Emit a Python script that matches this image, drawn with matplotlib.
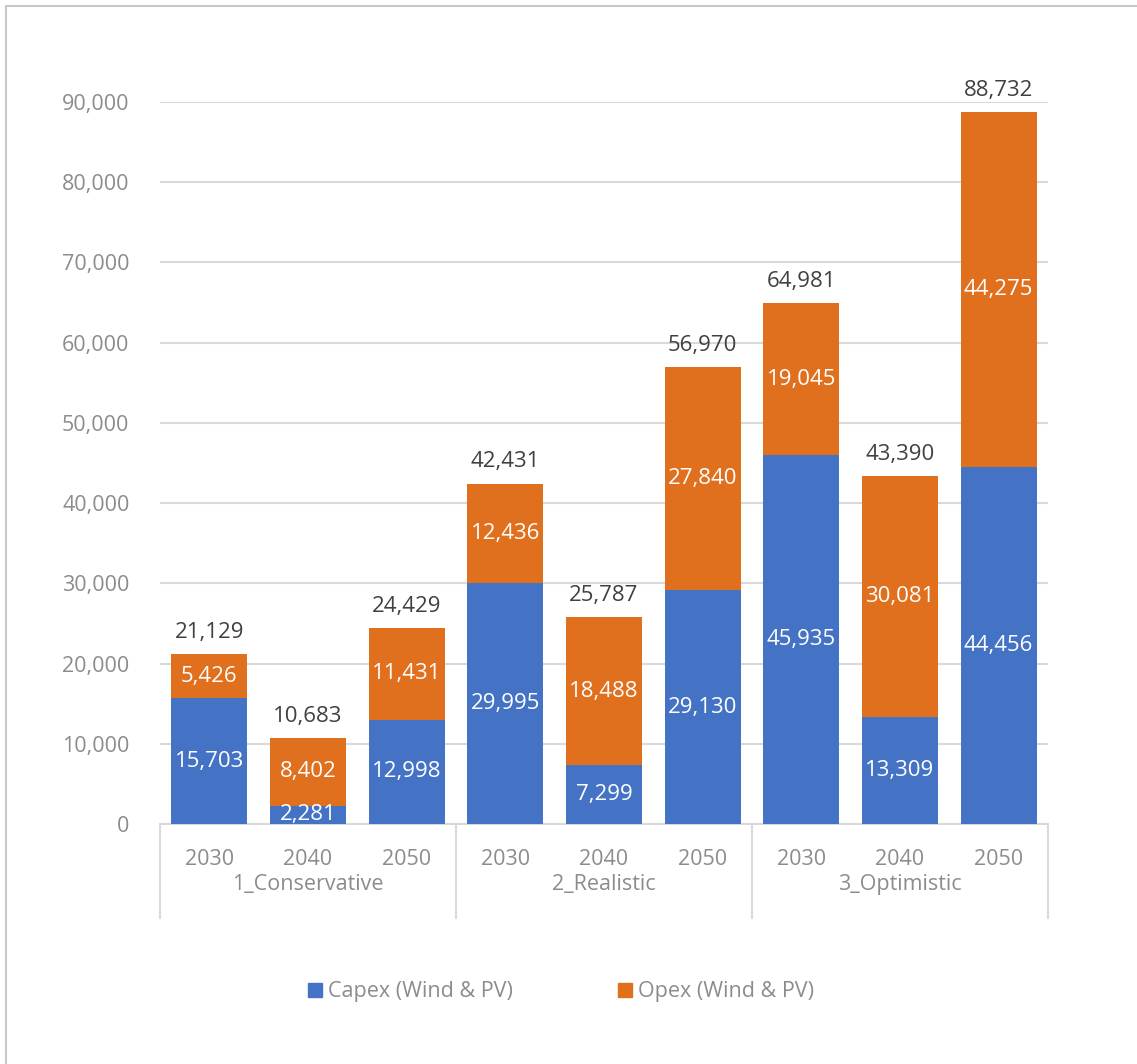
import numpy as np
import matplotlib.pyplot as plt
from matplotlib.lines import Line2D

plt.rcParams['font.family'] = ['Open Sans', 'DejaVu Sans']

groups = ["1_Conservative", "2_Realistic", "3_Optimistic"]
years = ["2030", "2040", "2050"]
capex = [15703, 2281, 12998, 29995, 7299, 29130, 45935, 13309, 44456]
opex = [5426, 8402, 11431, 12436, 18488, 27840, 19045, 30081, 44275]
totals = [21129, 10683, 24429, 42431, 25787, 56970, 64981, 43390, 88732]

BLUE = "#4472C4"
ORANGE = "#E0701E"
GRID = "#D9D9D9"
TICK = "#8C8C8C"
DARK = "#404040"

fig = plt.figure(figsize=(11.37, 10.64), dpi=100)
ax = fig.add_axes([160/1137, 1-824/1064, 888/1137, 722/1064])

x = np.arange(len(capex))
w = 0.77
ax.bar(x, capex, w, color=BLUE, zorder=3, label="Capex (Wind & PV)")
ax.bar(x, opex, w, bottom=capex, color=ORANGE, zorder=3, label="Opex (Wind & PV)")

for i in range(len(x)):
    ax.text(x[i], capex[i]/2, f"{capex[i]:,}", ha="center", va="center",
            color="white", fontsize=16, zorder=4)
    ax.text(x[i], capex[i] + opex[i]/2, f"{opex[i]:,}", ha="center", va="center",
            color="white", fontsize=16, zorder=4)
    ax.annotate(f"{totals[i]:,}", (x[i], capex[i] + opex[i]), xytext=(0, 8),
                textcoords="offset points", ha="center", va="bottom",
                color=DARK, fontsize=16, annotation_clip=False)

ax.set_xlim(-0.5, len(x) - 0.5)
ax.set_ylim(0, 90000)
ax.set_yticks(np.arange(0, 90001, 10000))
ax.set_yticklabels([f"{v:,}" for v in range(0, 90001, 10000)])
ax.tick_params(axis="y", length=0, pad=22, labelsize=15.5, labelcolor=TICK)
ax.set_xticks([])
ax.yaxis.grid(True, color=GRID, linewidth=1.5, zorder=0)
for s in ["top", "right", "left"]:
    ax.spines[s].set_visible(False)
ax.spines["bottom"].set_color(GRID)
ax.spines["bottom"].set_linewidth(1.5)

# multi-level category axis
for i in range(len(x)):
    ax.text(x[i], -0.049, years[i % 3], transform=ax.get_xaxis_transform(),
            ha="center", va="center", fontsize=15.5, color=TICK)
for g, name in enumerate(groups):
    ax.text(3*g + 1, -0.084, name, transform=ax.get_xaxis_transform(),
            ha="center", va="center", fontsize=15.5, color=TICK)
for sep in [-0.5, 2.5, 5.5, 8.5]:
    ax.add_line(Line2D([sep, sep], [0, -0.13], transform=ax.get_xaxis_transform(),
                       color=GRID, linewidth=1.5, clip_on=False))

handles = [Line2D([], [], marker="s", linestyle="none", markersize=10,
                  markerfacecolor=BLUE, markeredgecolor=BLUE),
           Line2D([], [], marker="s", linestyle="none", markersize=10,
                  markerfacecolor=ORANGE, markeredgecolor=ORANGE)]
leg = fig.legend(handles, ["Capex (Wind & PV)", "Opex (Wind & PV)"],
                 loc="center", bbox_to_anchor=(0.492, 1-992/1064), ncol=2,
                 frameon=False, fontsize=15.5, handletextpad=0.1,
                 columnspacing=4.7, handlelength=1.0)
for t in leg.get_texts():
    t.set_color(TICK)

# chart border (top and left edges only)
fig.add_artist(Line2D([5.5/1137, 5.5/1137, 1.0], [0.0, 1 - 5.5/1064, 1 - 5.5/1064],
                      transform=fig.transFigure, color="#C8C8C8", linewidth=1.5))

fig.savefig("out.png", dpi=100)
